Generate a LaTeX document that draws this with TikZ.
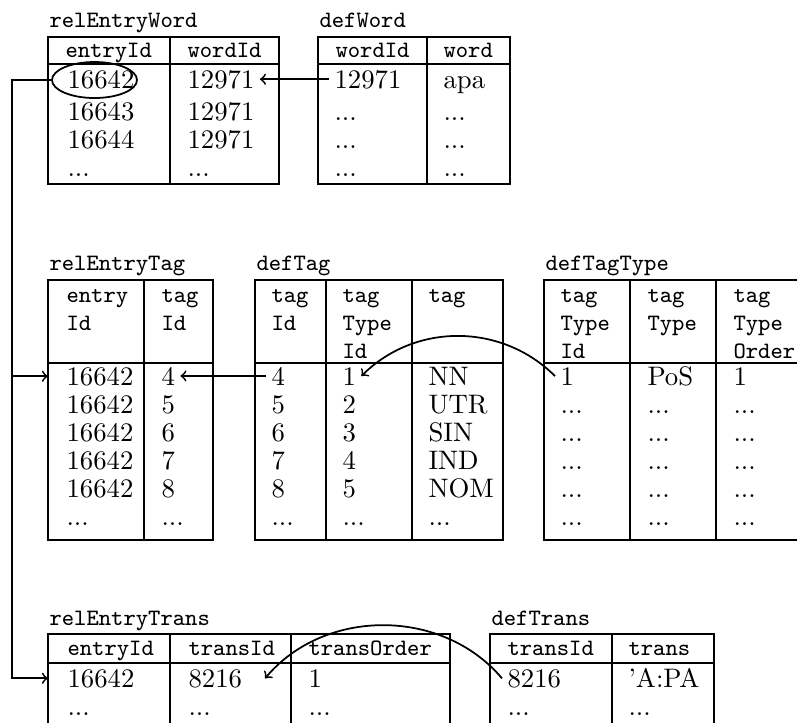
\documentclass[tikz,border=0pt]{standalone}
\usetikzlibrary{shapes.geometric}
\newcommand\rmsz{\fontsize{10.7}{12.8}\selectfont\rmfamily}
\newcommand\ttsz{\fontsize{9.4}{11.2}\selectfont\ttfamily}
\begin{document}
\begin{tikzpicture}[x=0.4pt,y=-0.4pt,
  outer/.style={line width=0.95pt},
  inner/.style={line width=0.8pt},
  conn/.style={line width=0.7pt},
  lbl/.style={anchor=base west, inner sep=0pt, font=\ttsz},
  dat/.style={anchor=base west, inner ysep=0pt, inner xsep=2pt, xshift=-2pt, font=\rmsz}]
\useasboundingbox (0,0) rectangle (797,722);

% ---------- relEntryWord ----------
\node[lbl] (tiA) at (49,27) {relEntryWord};
\draw[outer] (48,37) rectangle (279,184);
\draw[outer] (48,64) -- (279,64);
\draw[inner] (170,37) -- (170,184);
\node[lbl] (hA1) at (65,57) {entryId};
\node[lbl] (hA2) at (187,57) {wordId};
\node[dat] (w1a) at (67,88) {16642};
\node[dat] (w1b) at (187,88) {12971};
\node[dat] (w1c) at (67,120) {16643};
\node[dat] (w1d) at (187,120) {12971};
\node[dat] (w1e) at (67,148) {16644};
\node[dat] (w1f) at (187,148) {12971};
\node[dat] (w1g) at (67,176) {...};
\node[dat] (w1h) at (187,176) {...};
\node[draw, ellipse, conn, minimum width=34pt, minimum height=14.4pt, inner sep=0pt] (ell) at (94.5,80) {};

% ---------- defWord ----------
\node[lbl] (tiB) at (319,27) {defWord};
\draw[outer] (318,37) rectangle (510,184);
\draw[outer] (318,64) -- (510,64);
\draw[inner] (427,37) -- (427,184);
\node[lbl] (hB1) at (335,57) {wordId};
\node[lbl] (hB2) at (443,57) {word};
\node[dat] (w2a) at (334,88) {12971};
\node[dat] (w2b) at (443,88) {apa};
\node[dat] (w2c) at (334,120) {...};
\node[dat] (w2d) at (443,120) {...};
\node[dat] (w2e) at (334,148) {...};
\node[dat] (w2f) at (443,148) {...};
\node[dat] (w2g) at (334,176) {...};
\node[dat] (w2h) at (443,176) {...};

% ---------- relEntryTag ----------
\node[lbl] (tiC) at (49,270) {relEntryTag};
\draw[outer] (48,280) rectangle (213,540);
\draw[outer] (48,363) -- (213,363);
\draw[inner] (144,280) -- (144,540);
\node[lbl] (hC1) at (66,302) {entry};
\node[lbl] (hC2) at (66,330) {Id};
\node[lbl] (hC3) at (161,302) {tag};
\node[lbl] (hC4) at (161,330) {Id};
\node[dat] (t3a) at (66,385) {16642};
\node[dat] (t3b) at (161,385) {4};
\node[dat] (t3c) at (66,413) {16642};
\node[dat] (t3d) at (161,413) {5};
\node[dat] (t3e) at (66,441) {16642};
\node[dat] (t3f) at (161,441) {6};
\node[dat] (t3g) at (66,469) {16642};
\node[dat] (t3h) at (161,469) {7};
\node[dat] (t3i) at (66,497) {16642};
\node[dat] (t3j) at (161,497) {8};
\node[dat] (t3k) at (66,525) {...};
\node[dat] (t3l) at (161,525) {...};

% ---------- defTag ----------
\node[lbl] (tiD) at (256,270) {defTag};
\draw[outer] (255,280) rectangle (503,540);
\draw[outer] (255,363) -- (503,363);
\draw[inner] (326,280) -- (326,540);
\draw[inner] (412,280) -- (412,540);
\node[lbl] (hD1) at (271,302) {tag};
\node[lbl] (hD2) at (271,330) {Id};
\node[lbl] (hD3) at (342,302) {tag};
\node[lbl] (hD4) at (342,330) {Type};
\node[lbl] (hD5) at (342,358) {Id};
\node[lbl] (hD6) at (428,302) {tag};
\node[dat] (t4a) at (271,385) {4};
\node[dat] (t4b) at (342,385) {1};
\node[dat] (t4c) at (428,385) {NN};
\node[dat] (t4d) at (271,413) {5};
\node[dat] (t4e) at (342,413) {2};
\node[dat] (t4f) at (428,413) {UTR};
\node[dat] (t4g) at (271,441) {6};
\node[dat] (t4h) at (342,441) {3};
\node[dat] (t4i) at (428,441) {SIN};
\node[dat] (t4j) at (271,469) {7};
\node[dat] (t4k) at (342,469) {4};
\node[dat] (t4l) at (428,469) {IND};
\node[dat] (t4m) at (271,497) {8};
\node[dat] (t4n) at (342,497) {5};
\node[dat] (t4o) at (428,497) {NOM};
\node[dat] (t4p) at (271,525) {...};
\node[dat] (t4q) at (342,525) {...};
\node[dat] (t4r) at (428,525) {...};

% ---------- defTagType ----------
\node[lbl] (tiE) at (545,270) {defTagType};
\draw[outer] (544,280) rectangle (813,540);
\draw[outer] (544,363) -- (813,363);
\draw[inner] (630,280) -- (630,540);
\draw[inner] (716,280) -- (716,540);
\node[lbl] (hE1) at (560,302) {tag};
\node[lbl] (hE2) at (560,330) {Type};
\node[lbl] (hE3) at (560,358) {Id};
\node[lbl] (hE4) at (647,302) {tag};
\node[lbl] (hE5) at (647,330) {Type};
\node[lbl] (hE6) at (733,302) {tag};
\node[lbl] (hE7) at (733,330) {Type};
\node[lbl] (hE8) at (733,358) {Order};
\node[dat] (t5a) at (560,385) {1};
\node[dat] (t5b) at (647,385) {PoS};
\node[dat] (t5c) at (733,385) {1};
\foreach \r/\yy in {1/413,2/441,3/469,4/497,5/525}{
  \node[dat] (t5r\r a) at (560,\yy) {...};
  \node[dat] (t5r\r b) at (647,\yy) {...};
  \node[dat] (t5r\r c) at (733,\yy) {...};
}

% ---------- relEntryTrans ----------
\node[lbl] (tiF) at (49,625) {relEntryTrans};
\draw[outer] (48,760) -- (48,634) -- (450,634) -- (450,760);
\draw[outer] (48,663) -- (450,663);
\draw[inner] (170,634) -- (170,760);
\draw[inner] (291,634) -- (291,760);
\node[lbl] (hF1) at (67,655) {entryId};
\node[lbl] (hF2) at (188,655) {transId};
\node[lbl] (hF3) at (308,655) {transOrder};
\node[dat] (t6a) at (67,687) {16642};
\node[dat] (t6b) at (188,687) {8216};
\node[dat] (t6c) at (308,687) {1};
\node[dat] (t6d) at (67,715) {...};
\node[dat] (t6e) at (188,715) {...};
\node[dat] (t6f) at (308,715) {...};

% ---------- defTrans ----------
\node[lbl] (tiG) at (491,625) {defTrans};
\draw[outer] (490,760) -- (490,634) -- (714,634) -- (714,760);
\draw[outer] (490,663) -- (714,663);
\draw[inner] (612,634) -- (612,760);
\node[lbl] (hG1) at (507,655) {transId};
\node[lbl] (hG2) at (628,655) {trans};
\node[dat] (t7a) at (507,687) {8216};
\node[dat] (t7b) at (628,687) {'A:PA};
\node[dat] (t7c) at (507,715) {...};
\node[dat] (t7d) at (628,715) {...};

% ---------- connectors ----------
\coordinate (spine) at (12,0);
\coordinate (leftedge) at (48,0);
\draw[conn,->] (ell.west) -- (ell.west -| spine) -- (spine |- t6a) -- (leftedge |- t6a);
\draw[conn,->] (spine |- t3a) -- (leftedge |- t3a);
\draw[conn,->] (w2a.west) -- (w1b.east);
\draw[conn,->] (t4a.west) -- (t3b.east);
\draw[conn,->] (t5a.west) to[bend right=45] (t4b.east);
\draw[conn,->] (t7a.west) to[bend right=50] ([xshift=7pt]t6b.east);
\end{tikzpicture}
\end{document}
